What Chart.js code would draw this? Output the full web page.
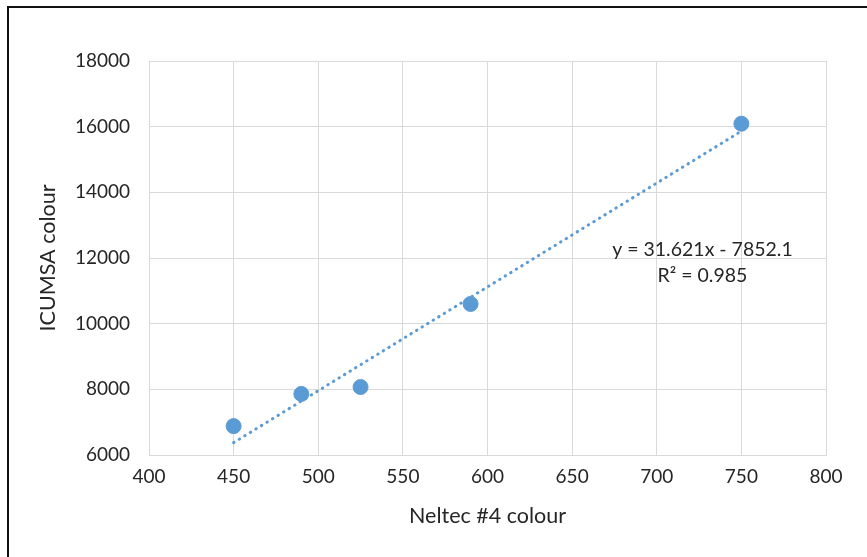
<!DOCTYPE html>
<html>
<head>
<meta charset="utf-8">
<script src="https://cdn.jsdelivr.net/npm/chart.js@4"></script>
<style>
  html, body { margin: 0; padding: 0; background: #fff; }
  .wrap { position: relative; width: 867px; height: 557px; overflow: hidden; }
  .frame {
    position: absolute; left: 7px; top: 6px; width: 900px; height: 600px;
    border-left: 2px solid #111; border-top: 2px solid #111;
    pointer-events: none;
  }
  canvas { position: absolute; left: 0; top: 0; }
</style>
</head>
<body>
<div class="wrap">
  <canvas id="chart" width="867" height="557"></canvas>
  <div class="frame"></div>
</div>
<script>
  // points
  const neltec = [450, 490, 525, 590, 750];
  const icumsa = [6880, 7860, 8070, 10600, 16090];

  // linear trendline ends (from y = 31.621x - 7852.1)
  const trendX = [450, 750];
  const trendY = [6377, 15864];

  const xTicks = [400, 450, 500, 550, 600, 650, 700, 750, 800];
  const yTicks = [6000, 8000, 10000, 12000, 14000, 16000, 18000];

  const eqLines = ['y = 31.621x - 7852.1', 'R\u00B2 = 0.985'];

  const blue = '#5b9bd5';
  const grid = '#d9d9d9';
  const text = '#262626';
  const font = 'Lato, "Open Sans", sans-serif';

  const equationLabel = {
    id: 'equationLabel',
    afterDatasetsDraw(chart) {
      const { ctx, scales } = chart;
      const x = scales.x.getPixelForValue(727);
      const y1 = scales.y.getPixelForValue(12240);
      const y2 = scales.y.getPixelForValue(11450);
      ctx.save();
      ctx.font = '19.5px ' + font;
      ctx.fillStyle = text;
      ctx.textAlign = 'center';
      ctx.textBaseline = 'middle';
      ctx.fillText(eqLines[0], x, y1);
      ctx.fillText(eqLines[1], x, y2);
      ctx.restore();
    }
  };

  new Chart(document.getElementById('chart'), {
    type: 'scatter',
    data: {
      datasets: [
        {
          label: 'Linear',
          data: trendX.map((x, i) => ({ x, y: trendY[i] })),
          showLine: true,
          borderColor: blue,
          borderWidth: 3,
          borderDash: [0.5, 6],
          borderCapStyle: 'round',
          pointRadius: 0,
          fill: false
        },
        {
          label: 'ICUMSA',
          data: neltec.map((x, i) => ({ x, y: icumsa[i] })),
          backgroundColor: blue,
          borderColor: blue,
          pointRadius: 7.5,
          pointHoverRadius: 7.5
        }
      ]
    },
    options: {
      responsive: false,
      animation: false,
      layout: { padding: { left: 31, top: 61, right: 41, bottom: 20 } },
      plugins: {
        legend: { display: false },
        tooltip: { enabled: false }
      },
      scales: {
        x: {
          type: 'linear',
          min: 400, max: 800,
          afterBuildTicks: s => { s.ticks = xTicks.map(v => ({ value: v })); },
          afterFit: s => { s.height = 82; },
          grid: { color: grid, lineWidth: 1, drawTicks: false },
          border: { color: grid, width: 1 },
          ticks: {
            padding: 10, color: text, font: { family: font, size: 19 },
            callback: v => String(v)
          },
          title: {
            display: true, text: 'Neltec #4 colour', color: text,
            font: { family: font, size: 21.5 }, padding: { top: 2, bottom: 8 }
          }
        },
        y: {
          type: 'linear',
          min: 6000, max: 18000,
          afterBuildTicks: s => { s.ticks = yTicks.map(v => ({ value: v })); },
          afterFit: s => { s.width = 118; },
          grid: { color: grid, lineWidth: 1, drawTicks: false },
          border: { color: grid, width: 1 },
          ticks: {
            padding: 19, color: text, font: { family: font, size: 19 },
            callback: v => String(v)
          },
          title: {
            display: true, text: 'ICUMSA colour', color: text,
            font: { family: font, size: 21.5 }, padding: { bottom: 4 }
          }
        }
      }
    },
    plugins: [equationLabel]
  });
</script>
</body>
</html>
